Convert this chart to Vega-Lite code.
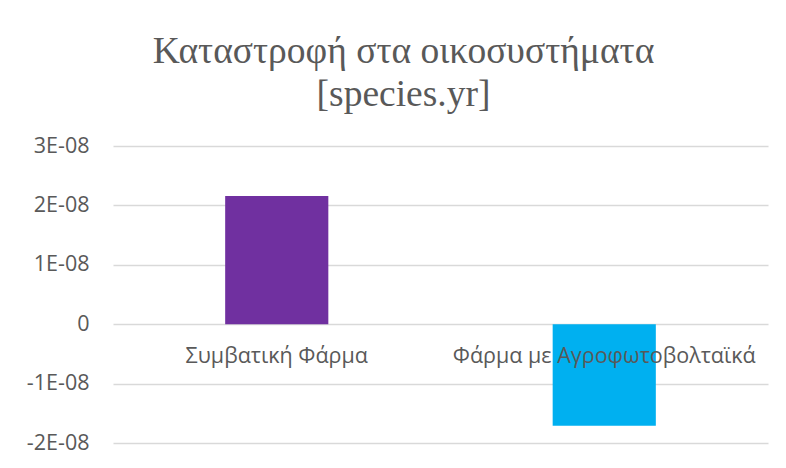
{
  "$schema": "https://vega.github.io/schema/vega-lite/v6.json",
  "width": 655,
  "height": 297,
  "autosize": {"type": "none"},
  "padding": {"left": 113, "top": 146, "right": 18, "bottom": 25},
  "background": "white",
  "title": {
    "text": ["Καταστροφή στα οικοσυστήματα", "[species.yr]"],
    "font": "Liberation Serif",
    "fontSize": 37.5,
    "fontWeight": "normal",
    "color": "#595959",
    "lineHeight": 43,
    "anchor": "middle",
    "dx": -37,
    "offset": 22
  },
  "data": {
    "values": [
      {"farm": "Συμβατική Φάρμα", "value": 2.16e-8},
      {"farm": "Φάρμα με Αγροφωτοβολταϊκά", "value": -1.71e-8}
    ]
  },
  "layer": [
    {
      "mark": {"type": "bar"},
      "encoding": {
        "x": {
          "field": "farm",
          "type": "nominal",
          "sort": null,
          "scale": {"paddingInner": 0.685, "paddingOuter": 0.3425},
          "axis": null
        },
        "y": {
          "field": "value",
          "type": "quantitative",
          "scale": {"domain": [-2e-8, 3e-8], "nice": false, "zero": false},
          "axis": {
            "title": null,
            "values": [-2e-8, -1e-8, 0, 1e-8, 2e-8, 3e-8],
            "labelExpr": "datum.value == 0 ? '0' : round(datum.value * 1e8) + 'E-08'",
            "domain": false,
            "ticks": false,
            "labelPadding": 24,
            "labelFont": "Open Sans",
            "labelFontSize": 21.5,
            "labelColor": "#595959",
            "gridColor": "#D9D9D9",
            "gridWidth": 1.5
          }
        },
        "color": {
          "field": "farm",
          "type": "nominal",
          "scale": {
            "domain": ["Συμβατική Φάρμα", "Φάρμα με Αγροφωτοβολταϊκά"],
            "range": ["#7030A0", "#00B0F0"]
          },
          "legend": null
        }
      }
    },
    {
      "mark": {
        "type": "text",
        "dy": 33,
        "baseline": "middle",
        "align": "center",
        "font": "Open Sans",
        "fontSize": 21.5,
        "color": "#595959"
      },
      "encoding": {
        "x": {"field": "farm", "type": "nominal", "sort": null},
        "y": {"datum": 0},
        "text": {"field": "farm"}
      }
    }
  ],
  "config": {"view": {"stroke": null}}
}
